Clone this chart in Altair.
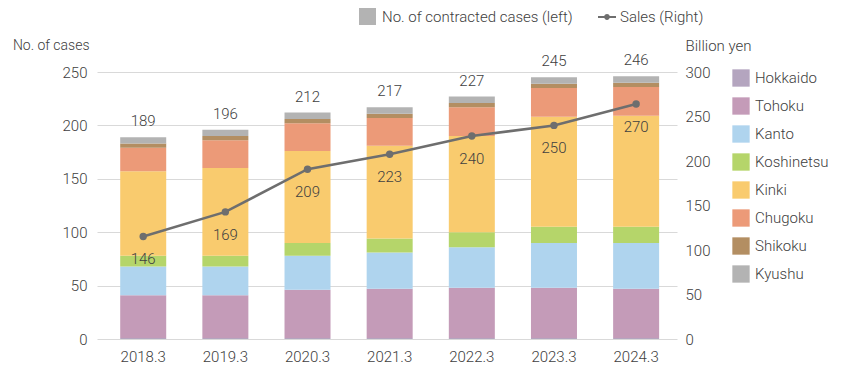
import altair as alt
import pandas as pd

years = ["2018.3", "2019.3", "2020.3", "2021.3", "2022.3", "2023.3", "2024.3"]
regions = ["Hokkaido", "Tohoku", "Kanto", "Koshinetsu", "Kinki", "Chugoku", "Shikoku", "Kyushu"]
region_colors = ["#b4a5bf", "#c49bb8", "#afd4ee", "#b5d56a", "#f9cb6e", "#ec9a78", "#b38e62", "#b3b3b3"]

hokkaido = [1, 1, 1, 1, 1, 1, 1]
tohoku = [40, 40, 45, 46, 47, 47, 46]
kanto = [27, 27, 32, 34, 38, 42, 43]
koshinetsu = [10, 10, 12, 13, 14, 15, 15]
kinki = [79, 82, 86, 87, 90, 103, 104]
chugoku = [22, 26, 26, 26, 27, 27, 27]
shikoku = [4, 4, 4, 4, 4, 4, 4]
kyushu = [6, 6, 6, 6, 6, 6, 6]
totals = [189, 196, 212, 217, 227, 245, 246]
sales = [146, 169, 209, 223, 240, 250, 270]

left_ticks = [0, 50, 100, 150, 200, 250]
right_ticks = [0, 50, 100, 150, 200, 250, 300]

series = [hokkaido, tohoku, kanto, koshinetsu, kinki, chugoku, shikoku, kyushu]
rows = []
for ri, (reg, vals) in enumerate(zip(regions, series)):
    for yr, v in zip(years, vals):
        rows.append({"year": yr, "region": reg, "idx": ri, "count": v})
bars_df = pd.DataFrame(rows)
totals_df = pd.DataFrame({"year": years, "total": totals})
sales_df = pd.DataFrame({"year": years, "sales": sales, "series": ["Sales (Right)"] * len(years)})
axis_df = pd.DataFrame({"v": [0, 300], "lbl": ["No. of contracted cases (left)"] * 2})

TXT = "#404040"
LINE = "#6e6e6e"
FS = 15
FW = 300

def xenc():
    return alt.X(
        "year:N",
        sort=years,
        scale=alt.Scale(paddingInner=0.44, paddingOuter=0.25, align=0.565),
        axis=alt.Axis(title=None, labelAngle=0, ticks=False, domain=False,
                      labelPadding=10, labelFontSize=FS, labelFontWeight=FW,
                      labelColor=TXT, grid=False),
    )

bars = alt.Chart(bars_df).mark_bar().encode(
    x=xenc(),
    y=alt.Y(
        "count:Q", stack="zero",
        scale=alt.Scale(domain=[0, 250], nice=False),
        axis=alt.Axis(orient="left", values=left_ticks, title="No. of cases",
                      titleAngle=0, titleAlign="right", titleBaseline="middle",
                      titleX=-8, titleY=-27, titleFontSize=14, titleFontWeight=FW,
                      titleColor=TXT, labelFontSize=FS, labelFontWeight=FW,
                      labelColor=TXT, labelPadding=10,
                      ticks=False, domain=False, grid=True, gridColor="#d9d9d9"),
    ),
    color=alt.Color(
        "region:N",
        scale=alt.Scale(domain=regions, range=region_colors),
        legend=alt.Legend(title=None, orient="none", legendX=635, legendY=-3,
                          symbolType="square", symbolSize=300, symbolStrokeWidth=0,
                          symbolOpacity=1, rowPadding=10, labelOffset=5,
                          labelFontSize=FS, labelFontWeight=FW, labelColor=TXT,
                          labelLimit=0, padding=0),
    ),
    order=alt.Order("idx:Q", sort="ascending"),
)

total_text = alt.Chart(totals_df).mark_text(
    dy=-16, fontSize=FS, fontWeight=FW, color=TXT, baseline="middle"
).encode(
    x=xenc(),
    y=alt.Y("total:Q"),
    text=alt.Text("total:Q"),
)

left = alt.layer(bars, total_text)

yline = alt.Y("sales:Q", scale=alt.Scale(domain=[50, 300], nice=False), axis=None)

line = alt.Chart(sales_df).mark_line(color=LINE, strokeWidth=2.5).encode(
    x=xenc(), y=yline,
)

legend_path = ("M-1,-0.12H1V0.12H-1Z"
               "M0.32,0A0.32,0.32,0,1,1,-0.32,0A0.32,0.32,0,1,1,0.32,0Z")

points = alt.Chart(sales_df).mark_circle(size=55, opacity=1).encode(
    x=xenc(), y=yline,
    color=alt.Color(
        "series:N",
        scale=alt.Scale(domain=["Sales (Right)"], range=[LINE]),
        legend=alt.Legend(title=None, orient="none", legendX=501, legendY=-64,
                          symbolType=legend_path, symbolSize=324, symbolStrokeWidth=0,
                          symbolOpacity=1, labelOffset=4, labelFontSize=FS,
                          labelFontWeight=FW, labelColor=TXT, labelLimit=0, padding=0),
    ),
)

sales_text = alt.Chart(sales_df).mark_text(
    dy=23, fontSize=FS, fontWeight=FW, color=TXT, baseline="middle"
).encode(
    x=xenc(), y=yline, text=alt.Text("sales:Q"),
)

right = alt.layer(line, points, sales_text)

axis_layer = alt.Chart(axis_df).mark_square(opacity=0).encode(
    y=alt.Y(
        "v:Q",
        scale=alt.Scale(domain=[0, 300], nice=False),
        axis=alt.Axis(orient="right", values=right_ticks, title="Billion yen",
                      titleAngle=0, titleAlign="left", titleBaseline="middle",
                      titleX=8, titleY=-27, titleFontSize=FS, titleFontWeight=FW,
                      titleColor=TXT, labelFontSize=FS, labelFontWeight=FW,
                      labelColor=TXT, labelPadding=8,
                      ticks=False, domain=False, grid=False),
    ),
    color=alt.Color(
        "lbl:N",
        scale=alt.Scale(range=["#b3b3b3"]),
        legend=alt.Legend(title=None, orient="none", legendX=262, legendY=-64,
                          symbolType="square", symbolSize=289, symbolStrokeWidth=0,
                          symbolOpacity=1, labelOffset=6, labelFontSize=FS,
                          labelFontWeight=FW, labelColor=TXT, labelLimit=0, padding=0),
    ),
)

chart = (
    alt.layer(left, right, axis_layer)
    .resolve_scale(y="independent", color="independent")
    .properties(
        width=580, height=267,
        autosize=alt.AutoSizeParams(type="none"),
        padding={"left": 89, "top": 64, "right": 155, "bottom": 25},
    )
    .configure(font="Roboto")
    .configure_view(stroke=None)
)

chart.save("out.html", embed_options={"renderer": "svg", "actions": False})
